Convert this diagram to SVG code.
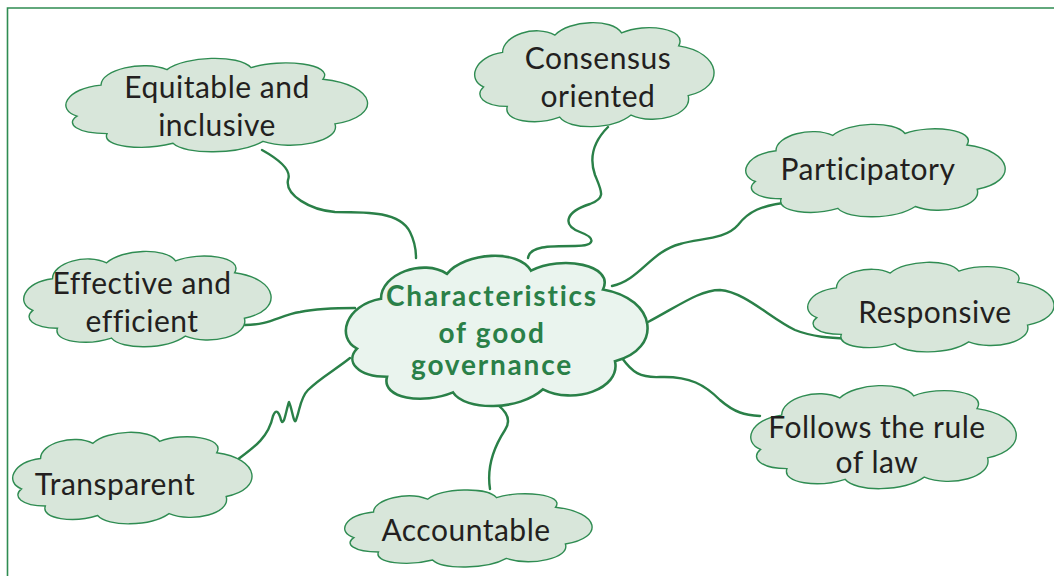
<svg xmlns="http://www.w3.org/2000/svg" xmlns:xlink="http://www.w3.org/1999/xlink" width="1054" height="576" viewBox="0 0 1054 576">
<style>
.frame{fill:none;stroke:#2f8c52;stroke-width:1.6}
.cloud{fill:#d8e6da;stroke:#2f8c52;stroke-width:1.4}
.hub{fill:#eaf4ee;stroke:#2a8048;stroke-width:2.6}
.con{fill:none;stroke:#2a8048;stroke-width:2.4;stroke-linecap:round;stroke-linejoin:round}
.lbl{font-family:Lato,"Open Sans","Liberation Sans",sans-serif;font-size:30px;letter-spacing:0.5px;fill:#231f20;text-anchor:middle}
.hubt{font-family:Lato,"Open Sans","Liberation Sans",sans-serif;font-size:28px;letter-spacing:1.8px;font-weight:bold;fill:#2a8048;text-anchor:middle}
</style>
<defs>
<path id="cloudShape" vector-effect="non-scaling-stroke" d="M 4,62 C -3,55 0,34 12,30 C 12,14 26,4 34,14 C 40,0 58,-2 62,12 C 72,2 90,8 86,24 C 104,30 106,62 90,70 C 92,88 76,98 66,88 C 58,102 40,102 36,90 C 26,98 12,94 14,80 C 4,80 0,70 4,62 Z"/>
</defs>
<rect width="1054" height="576" fill="#ffffff"/>
<path class="frame" d="M 7.5,576 L 7.5,8 L 1054,8"/>
<g id="connectors">
<path class="con" d="M 262,150 C 280,160 292,170 288,180 C 285,195 310,210 335,212 C 370,212 400,212 410,232 C 415,242 416,250 416,258"/>
<path class="con" d="M 608,127 C 595,140 588,155 595,175 C 602,192 606,198 590,204 C 565,212 562,225 580,232 C 596,238 596,246 575,246 C 548,246 530,246 528,258"/>
<path class="con" d="M 792,202 C 760,205 748,212 738,225 C 725,240 700,238 680,244 C 650,252 640,280 612,286"/>
<path class="con" d="M 648,322 C 680,305 700,290 720,290 C 745,292 770,318 795,330 C 815,338 835,338 855,339"/>
<path class="con" d="M 622,358 C 632,372 640,378 660,377 C 690,376 705,385 720,400 C 735,413 745,415 760,416"/>
<path class="con" d="M 490,489 C 487,470 492,450 505,430 C 513,418 505,408 485,396"/>
<path class="con" d="M 350,358 C 335,370 320,378 308,390 C 300,398 300,410 296,420 C 294,426 292,408 289,402 C 286,410 284,428 281,420 C 279,412 276,408 273,416 C 268,440 250,450 233,463"/>
<path class="con" d="M 245,325 C 270,325 280,315 300,312 C 320,308 340,308 355,308"/>
</g>
<g id="node-equitable">
<use class="cloud" xlink:href="#cloudShape" transform="translate(65,56) scale(3,0.97)"/>
<text class="lbl" x="217" y="98">Equitable and</text>
<text class="lbl" x="217" y="136">inclusive</text>
</g>
<g id="node-consensus">
<use class="cloud" xlink:href="#cloudShape" transform="translate(474,20) scale(2.38,1.08)"/>
<text class="lbl" x="598" y="69">Consensus</text>
<text class="lbl" x="598" y="107">oriented</text>
</g>
<g id="node-participatory">
<use class="cloud" xlink:href="#cloudShape" transform="translate(745,122) scale(2.58,0.96)"/>
<text class="lbl" x="868" y="180">Participatory</text>
</g>
<g id="node-responsive">
<use class="cloud" xlink:href="#cloudShape" transform="translate(807,260) scale(2.45,0.93)"/>
<text class="lbl" x="935" y="323">Responsive</text>
</g>
<g id="node-rule">
<use class="cloud" xlink:href="#cloudShape" transform="translate(750,383) scale(2.64,1.07)"/>
<text class="lbl" x="877" y="438">Follows the rule</text>
<text class="lbl" x="877" y="473">of law</text>
</g>
<g id="node-accountable">
<use class="cloud" xlink:href="#cloudShape" transform="translate(344,488) scale(2.46,0.8)"/>
<text class="lbl" x="466" y="541">Accountable</text>
</g>
<g id="node-transparent">
<use class="cloud" xlink:href="#cloudShape" transform="translate(12,430) scale(2.38,0.95)"/>
<text class="lbl" x="115" y="495">Transparent</text>
</g>
<g id="node-effective">
<use class="cloud" xlink:href="#cloudShape" transform="translate(23,249) scale(2.46,0.99)"/>
<text class="lbl" x="142" y="294">Effective and</text>
<text class="lbl" x="142" y="332">efficient</text>
</g>
<g id="node-center">
<use class="hub" xlink:href="#cloudShape" transform="translate(345,252) scale(3,1.56)"/>
<text class="hubt" x="492" y="306">Characteristics</text>
<text class="hubt" x="492" y="343">of good</text>
<text class="hubt" x="492" y="375">governance</text>
</g>
</svg>
